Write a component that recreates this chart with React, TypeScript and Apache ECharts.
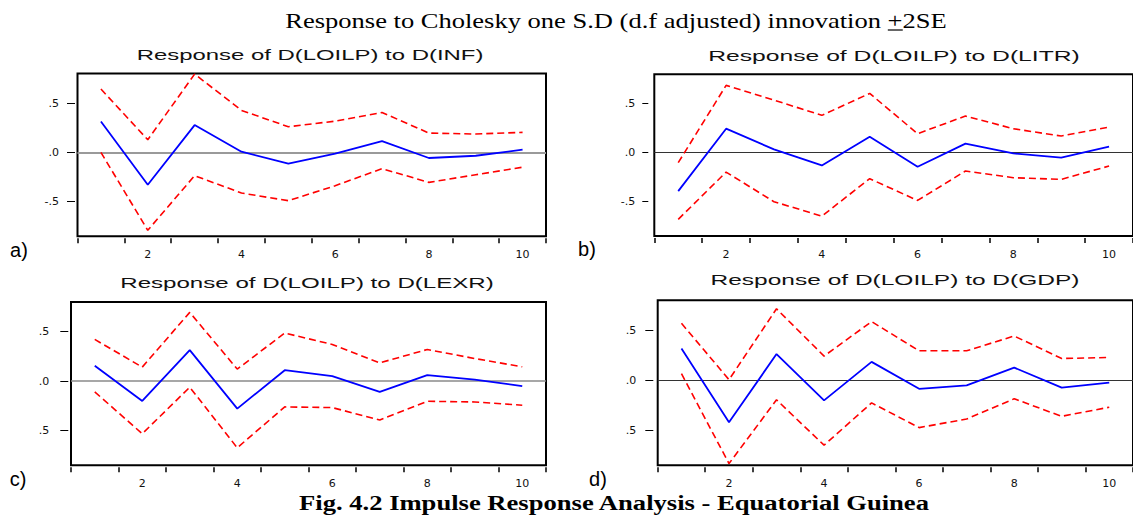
import React, { useEffect, useRef } from "react";
import * as echarts from "echarts";

// ---------------- DATA ----------------
const periods = ["1", "2", "3", "4", "5", "6", "7", "8", "9", "10"];

const infResp = [0.314, -0.328, 0.277, 0.007, -0.115, -0.012, 0.115, -0.057, -0.034, 0.027];
const infUpper = [0.642, 0.128, 0.794, 0.426, 0.26, 0.317, 0.405, 0.196, 0.186, 0.203];
const infLower = [0.0, -0.79, -0.236, -0.412, -0.49, -0.338, -0.165, -0.304, -0.227, -0.15];

const litrResp = [-0.392, 0.245, 0.034, -0.13, 0.163, -0.143, 0.092, -0.007, -0.051, 0.061];
const litrUpper = [-0.102, 0.687, 0.537, 0.381, 0.605, 0.194, 0.374, 0.245, 0.17, 0.262];
const litrLower = [-0.68, -0.198, -0.5, -0.647, -0.265, -0.487, -0.187, -0.255, -0.272, -0.136];

const lexrResp = [0.155, -0.2, 0.314, -0.277, 0.111, 0.05, -0.108, 0.061, 0.015, -0.05];
const lexrUpper = [0.422, 0.142, 0.695, 0.122, 0.486, 0.371, 0.185, 0.32, 0.229, 0.145];
const lexrLower = [-0.108, -0.531, -0.061, -0.673, -0.26, -0.267, -0.392, -0.203, -0.21, -0.243];

const gdpResp = [0.318, -0.42, 0.262, -0.201, 0.184, -0.085, -0.05, 0.127, -0.074, -0.024];
const gdpUpper = [0.57, 0.006, 0.715, 0.242, 0.587, 0.295, 0.295, 0.443, 0.218, 0.228];
const gdpLower = [0.066, -0.833, -0.195, -0.649, -0.226, -0.473, -0.387, -0.185, -0.36, -0.269];

const yTickValues = [-0.5, 0, 0.5];
const yTickLabelsFull = ["-.5", ".0", ".5"];
const yTickLabelsClipped = [".5", ".0", ".5"];

const mainTitlePrefix = "Response to Cholesky one S.D (d.f adjusted) innovation ";
const mainTitlePlus = "+";
const mainTitleSuffix = "2SE";
const captionText = "Fig. 4.2 Impulse Response Analysis - Equatorial Guinea";

// ---------------- LAYOUT ----------------
const panels = [
  {
    tag: "a)", title: "Response of D(LOILP) to D(INF)",
    resp: infResp, upper: infUpper, lower: infLower, yLabels: yTickLabelsFull,
    grid: { left: 77.5, top: 73.5, width: 468.5, height: 162.7 },
    zero: { color: "#9a9a9a", width: 2 },
    yOffset: 2.5, yTickLen: 8, yMargin: 16,
    titleX: 310, titleY: 55, titleW: 347, tagX: 19, tagY: 250,
  },
  {
    tag: "b)", title: "Response of D(LOILP) to D(LITR)",
    resp: litrResp, upper: litrUpper, lower: litrLower, yLabels: yTickLabelsFull,
    grid: { left: 654.3, top: 74.3, width: 483.4, height: 161.7 },
    zero: { color: "#333333", width: 1 },
    yOffset: 6, yTickLen: 6, yMargin: 13,
    titleX: 894, titleY: 55.5, titleW: 372, tagX: 587, tagY: 249,
  },
  {
    tag: "c)", title: "Response of D(LOILP) to D(LEXR)",
    resp: lexrResp, upper: lexrUpper, lower: lexrLower, yLabels: yTickLabelsClipped,
    grid: { left: 71, top: 302, width: 475, height: 163.3 },
    zero: { color: "#8a8a8a", width: 1.5 },
    yOffset: 2.7, yTickLen: 8, yMargin: 19,
    titleX: 307, titleY: 282.8, titleW: 374, tagX: 18, tagY: 479,
  },
  {
    tag: "d)", title: "Response of D(LOILP) to D(GDP)",
    resp: gdpResp, upper: gdpUpper, lower: gdpLower, yLabels: yTickLabelsClipped,
    grid: { left: 657.7, top: 300.3, width: 476, height: 165 },
    zero: { color: "#333333", width: 1 },
    yOffset: 4.4, yTickLen: 8, yMargin: 17,
    titleX: 895, titleY: 279.8, titleW: 369, tagX: 598, tagY: 479,
  },
];

const Y_MIN = -0.85;
const Y_MAX = 0.8;

let measureCtx: CanvasRenderingContext2D | null = null;
function measure(text: string, font: string): number {
  if (!measureCtx) measureCtx = document.createElement("canvas").getContext("2d");
  measureCtx!.font = font;
  return measureCtx!.measureText(text).width;
}

function buildOption() {
  const grids: any[] = [];
  const xAxes: any[] = [];
  const yAxes: any[] = [];
  const series: any[] = [];
  const graphics: any[] = [];

  panels.forEach((p, i) => {
    grids.push({
      left: p.grid.left, top: p.grid.top, width: p.grid.width, height: p.grid.height,
      show: true, borderColor: "#000", borderWidth: 2, backgroundColor: "transparent",
      containLabel: false,
    });
    xAxes.push({
      type: "category", gridIndex: i, data: periods, boundaryGap: true,
      position: "bottom", offset: 2,
      axisLine: { show: false, onZero: false },
      axisTick: { show: true, interval: 0, length: 5, lineStyle: { color: "#000", width: 1.5 } },
      axisLabel: {
        interval: (idx: number) => idx % 2 === 1,
        margin: 11, color: "#111", fontSize: 11, fontFamily: "DejaVu Sans",
      },
      splitLine: { show: false },
    });
    const labels = p.yLabels;
    yAxes.push({
      type: "value", gridIndex: i, min: Y_MIN, max: Y_MAX,
      position: "left", offset: p.yOffset,
      axisLine: { show: false, onZero: false },
      axisTick: { show: true, length: p.yTickLen, customValues: yTickValues, lineStyle: { color: "#000", width: 1 } },
      axisLabel: {
        customValues: yTickValues, margin: p.yMargin, color: "#111", fontSize: 11,
        fontFamily: "DejaVu Sans",
        formatter: (v: number) => {
          const k = yTickValues.findIndex((t) => Math.abs(t - v) < 1e-6);
          return k >= 0 ? labels[k] : "";
        },
      },
      splitLine: { show: false },
    });
    const dashed = { color: "#ff0000", width: 1.6, type: [7, 4] };
    series.push({
      type: "line", xAxisIndex: i, yAxisIndex: i, data: p.upper, symbol: "none",
      lineStyle: dashed, silent: true, z: 3,
    });
    series.push({
      type: "line", xAxisIndex: i, yAxisIndex: i, data: p.lower, symbol: "none",
      lineStyle: dashed, silent: true, z: 3,
    });
    series.push({
      type: "line", xAxisIndex: i, yAxisIndex: i, data: p.resp, symbol: "none",
      lineStyle: { color: "#0000ff", width: 1.8 }, silent: true, z: 4,
      markLine: {
        silent: true, symbol: ["none", "none"], label: { show: false },
        lineStyle: { color: p.zero.color, width: p.zero.width, type: "solid" },
        data: [{ yAxis: 0 }], z: 2,
      },
    });

    const subFont = '14.5px "Liberation Sans"';
    const subScale = p.titleW / measure(p.title, subFont);
    graphics.push({
      type: "text", x: p.titleX, y: p.titleY, scaleX: subScale, silent: true,
      style: {
        text: p.title, fill: "#111", fontSize: 14.5, fontFamily: "Liberation Sans",
        align: "center", verticalAlign: "middle", textAlign: "center", textVerticalAlign: "middle",
      },
    });
    graphics.push({
      type: "text", x: p.tagX, y: p.tagY, silent: true,
      style: {
        text: p.tag, fill: "#000", fontSize: 20, fontFamily: "Liberation Sans",
        align: "center", verticalAlign: "middle", textAlign: "center", textVerticalAlign: "middle",
      },
    });
  });

  // main title
  const titleFont = '21px "Liberation Serif"';
  const fullTitle = mainTitlePrefix + mainTitlePlus + mainTitleSuffix;
  const titleTarget = 662;
  const titleCx = 616;
  const tScale = titleTarget / measure(fullTitle, titleFont);
  graphics.push({
    type: "text", x: titleCx, y: 20.5, scaleX: tScale, silent: true,
    style: {
      text: fullTitle, fill: "#000", fontSize: 21, fontFamily: "Liberation Serif",
      align: "center", verticalAlign: "middle", textAlign: "center", textVerticalAlign: "middle",
    },
  });
  const leftEdge = titleCx - titleTarget / 2;
  const plusStart = leftEdge + measure(mainTitlePrefix, titleFont) * tScale;
  const plusEnd = plusStart + measure(mainTitlePlus, titleFont) * tScale;
  graphics.push({
    type: "line", silent: true,
    shape: { x1: plusStart, y1: 30, x2: plusEnd, y2: 30 },
    style: { stroke: "#000", lineWidth: 1.2 },
  });

  // caption
  const capFont = 'bold 22px "Liberation Serif"';
  const capScale = 632 / measure(captionText, capFont);
  graphics.push({
    type: "text", x: 614, y: 502.5, scaleX: capScale, silent: true,
    style: {
      text: captionText, fill: "#000", fontSize: 22, fontWeight: "bold", fontFamily: "Liberation Serif",
      align: "center", verticalAlign: "middle", textAlign: "center", textVerticalAlign: "middle",
    },
  });

  return {
    animation: false,
    backgroundColor: "#ffffff",
    grid: grids,
    xAxis: xAxes,
    yAxis: yAxes,
    series,
    graphic: { elements: graphics },
  };
}

export default function App() {
  const ref = useRef<HTMLDivElement>(null);
  useEffect(() => {
    if (!ref.current) return;
    const chart = echarts.init(ref.current, null, { renderer: "svg" });
    chart.setOption(buildOption() as any);
    return () => chart.dispose();
  }, []);
  return (
    <div
      ref={ref}
      style={{ position: "fixed", left: 0, top: 0, width: 1133, height: 523, background: "#fff" }}
    />
  );
}
